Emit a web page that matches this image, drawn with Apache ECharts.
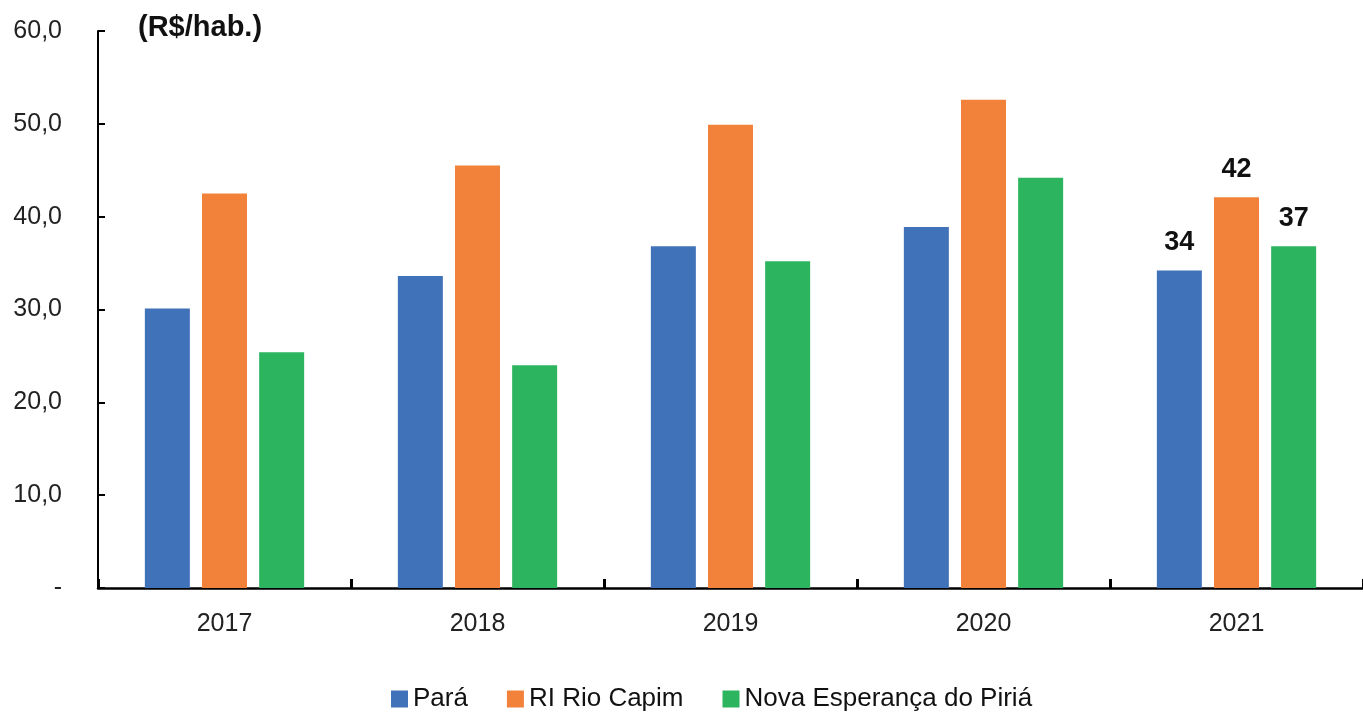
<!DOCTYPE html>
<html><head><meta charset="utf-8">
<script src="https://cdn.jsdelivr.net/npm/echarts@6/dist/echarts.min.js"></script>
<style>html,body{margin:0;padding:0;background:#fff}#c{width:1363px;height:717px}</style>
</head><body><div id="c"></div>
<script>
const categories = ['2017','2018','2019','2020','2021'];
const para = [30.1, 33.6, 36.8, 38.9, 34.2];
const rioCapim = [42.5, 45.5, 49.9, 52.6, 42.1];
const novaEsperanca = [25.4, 24.0, 35.2, 44.2, 36.8];
const seriesNames = ['Pará', 'RI Rio Capim', 'Nova Esperança do Piriá'];
const colors = ['#3F72B8', '#F2823A', '#2CB45E'];
const labelledIndex = 4;

const chart = echarts.init(document.getElementById('c'));
const FONT = 'Liberation Sans, Arial, sans-serif';
function mk(name, data, color) {
  return {
    name, type: 'bar', data, barWidth: 45, barGap: '27%',
    itemStyle: { color },
    label: {
      show: true, position: 'top', distance: 14,
      fontFamily: FONT, fontWeight: 'bold', fontSize: 27, color: '#111',
      formatter: p => p.dataIndex === labelledIndex ? Math.round(p.value) : ''
    }
  };
}
chart.setOption({
  animation: false,
  backgroundColor: '#fff',
  grid: { left: 98, right: 0, top: 31, bottom: 129, containLabel: false },
  legend: {
    bottom: 0, left: 386, icon: 'rect', itemWidth: 17, itemHeight: 17, itemGap: 39,
    textStyle: { fontFamily: FONT, fontSize: 26, color: '#111' },
    data: seriesNames
  },
  graphic: [{ type: 'text', left: 138, top: 13,
    style: { text: '(R$/hab.)', font: 'bold 29px Liberation Sans, Arial', fill: '#111' } }],
  xAxis: {
    type: 'category', data: categories,
    axisLine: { lineStyle: { color: '#000', width: 2.5 } },
    axisTick: { show: true, interval: 0, inside: true, length: 9, lineStyle: { color: '#000', width: 3 } },
    axisLabel: { margin: 24, fontFamily: FONT, fontSize: 25, color: '#222' }
  },
  yAxis: {
    type: 'value', min: 0, max: 60, interval: 10,
    splitLine: { show: false },
    axisLine: { show: true, lineStyle: { color: '#000', width: 2 } },
    axisTick: { show: true, inside: true, length: 7, lineStyle: { color: '#000', width: 2 } },
    axisLabel: { margin: 36, fontFamily: FONT, fontSize: 25, color: '#222',
      formatter: v => v === 0 ? '-' : v.toFixed(1).replace('.', ',') }
  },
  series: [mk(seriesNames[0], para, colors[0]), mk(seriesNames[1], rioCapim, colors[1]), mk(seriesNames[2], novaEsperanca, colors[2])]
});
</script></body></html>
